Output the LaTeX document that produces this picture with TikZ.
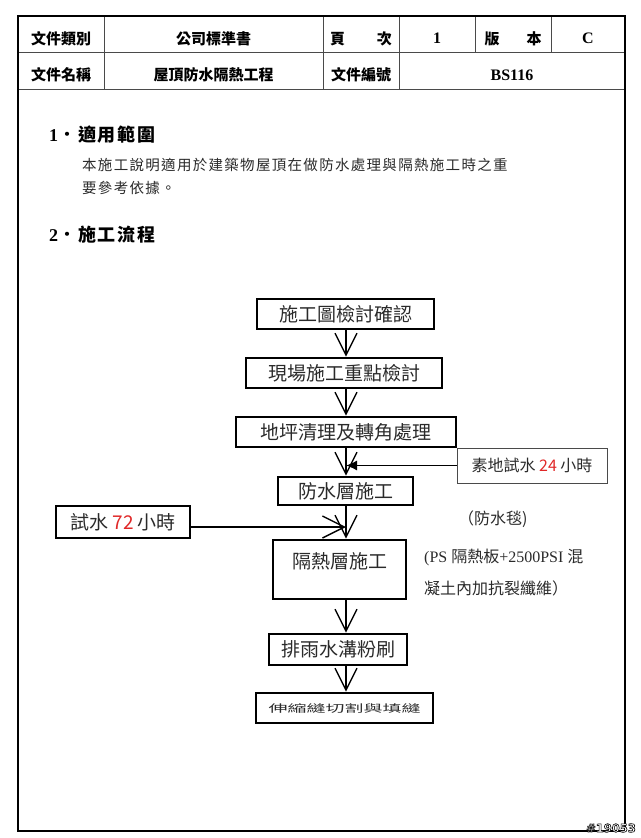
\documentclass[tikz,border=0pt]{standalone}
\usepackage{fontspec}
\setmainfont{Liberation Serif}
\newfontfamily\cjk{Noto Sans CJK TC}
\newfontfamily\tagfont{DejaVu Sans}
\usetikzlibrary{arrows.meta}

\definecolor{ink}{HTML}{2A2A2A}
\definecolor{num}{HTML}{E02828}
\definecolor{rule}{HTML}{4A4A4A}
\newcommand{\outlined}[1]{\special{pdf:literal direct 2 Tr 0.6 w 1 g 0 G}#1\special{pdf:literal direct 0 Tr}}

\begin{document}
\begin{tikzpicture}[x=1pt,y=-1pt]
\tikzstyle{cell}=[inner sep=0pt,font=\cjk\bfseries\fontsize{15}{15}\selectfont]
\tikzstyle{latin}=[inner sep=0pt,font=\bfseries\fontsize{16}{16}\selectfont]
\tikzstyle{stage}=[draw=black,line width=2.6pt,inner sep=0pt,text=ink,font=\cjk\fontsize{19}{20}\selectfont]
\tikzstyle{note}=[inner sep=0pt,anchor=west,text=ink,font=\fontsize{16}{18}\selectfont]
\tikzstyle{arr}=[line width=1.4pt,-{Straight Barb[length=22pt,width=22pt]}]
\tikzstyle{tri}=[line width=0.9pt,-{Latex[length=11pt,width=10pt]}]
\useasboundingbox (0,0) rectangle (640,838);
% header table
\draw[rule,line width=0.9pt] (18,52) -- (625,52);
\draw[rule,line width=0.9pt] (18,89) -- (625,89);
\foreach \x in {104,323,399} \draw[rule,line width=0.9pt] (\x,16) -- (\x,89);
\foreach \x in {475,551} \draw[rule,line width=0.9pt] (\x,16) -- (\x,52);
\draw[line width=2.6pt] (18,16) rectangle (625,831);
\node[cell] (c1) at (61,38.5) {文件類別};
\node[cell] (c2) at (213.5,38.5) {公司標準書};
\node[cell] (c3) at (361,38.5) {\makebox[62pt]{頁\hfill 次}};
\node[latin] (c4) at (437,38.5) {1};
\node[cell] (c5) at (513,38.5) {\makebox[57pt]{版\hfill 本}};
\node[latin] (c6) at (588,38.5) {C};
\node[cell] (d1) at (61,75) {文件名稱};
\node[cell] (d2) at (213.5,75) {屋頂防水隔熱工程};
\node[cell] (d3) at (361,75) {文件編號};
\node[latin] (d4) at (512,75) {BS116};
% sections
\node[anchor=west,inner sep=0pt,font=\bfseries\fontsize{18}{18}\selectfont] (h1) at (49,135)
  {1{\cjk\bfseries\addfontfeature{LetterSpace=10}\fontsize{18}{18}\selectfont ．適用範圍}};
\node[anchor=west,inner sep=0pt,align=left,text=ink,font=\cjk\addfontfeature{LetterSpace=9}\fontsize{14.5}{23}\selectfont] (body) at (82,176.5)
  {本施工說明適用於建築物屋頂在做防水處理與隔熱施工時之重\\要參考依據。};
\node[anchor=west,inner sep=0pt,font=\bfseries\fontsize{18}{18}\selectfont] (h2) at (49,235)
  {2{\cjk\bfseries\addfontfeature{LetterSpace=10}\fontsize{18}{18}\selectfont ．施工流程}};
% flow
\coordinate (axis) at (346,0);
\node[stage,minimum width=177pt,minimum height=30pt] (1) at (345.5,314) {施工圖檢討確認};
\node[stage,minimum width=196pt,minimum height=30pt] (2) at (344,373) {現場施工重點檢討};
\node[stage,minimum width=220pt,minimum height=30pt] (3) at (346,432) {地坪清理及轉角處理};
\node[stage,minimum width=135pt,minimum height=28pt] (4) at (345.5,491) {防水層施工};
\node[stage,minimum width=133pt,minimum height=59pt,text height=28.6pt,text depth=30.4pt] (5) at (339.5,569.5) {隔熱層施工};
\node[stage,minimum width=138pt,minimum height=31pt] (6) at (338,649.5) {排雨水溝粉刷};
\node[stage,minimum width=177pt,minimum height=30pt] (7) at (344.5,708) {\scalebox{1}[0.55]{伸縮縫切割與填縫}};
\draw[arr] (1.south -| axis) -- (2.north -| axis);
\draw[arr] (2.south -| axis) -- (3.north -| axis);
\draw[arr] (3.south -| axis) -- (4.north -| axis);
\draw[arr] (4.south -| axis) -- (5.north -| axis);
\draw[arr] (5.south -| axis) -- (6.north -| axis);
\draw[arr] (6.south -| axis) -- (7.north -| axis);
% side boxes
\node[draw=rule,line width=0.8pt,minimum width=150pt,minimum height=35pt,inner sep=0pt,text=ink,font=\cjk\fontsize{16}{18}\selectfont] (24) at (532,465.5) {素地試水 \textcolor{num}{24} 小時};
\node[stage,minimum width=134pt,minimum height=32pt] (72) at (123,522) {試水 \textcolor{num}{72} 小時};
\draw[tri] (24.west) -- (24.west -| axis);
\draw[arr] ([yshift=-5pt]72.east) -- ([yshift=-5pt]72.east -| axis);
% notes
\node[note] (n1) at (458,519) {{\cjk （防水毯}{\cjk )}};
\node[note] (n2) at (424,557) {(PS {\cjk 隔熱板}+2500PSI {\cjk 混}};
\node[note] (n3) at (424,588) {{\cjk 凝土內加抗裂纖維）}};
\node[inner sep=0pt,font=\tagfont\bfseries\fontsize{11.5}{12}\selectfont] (tag) at (611,828) {\outlined{\#19053}};
\end{tikzpicture}
\end{document}
